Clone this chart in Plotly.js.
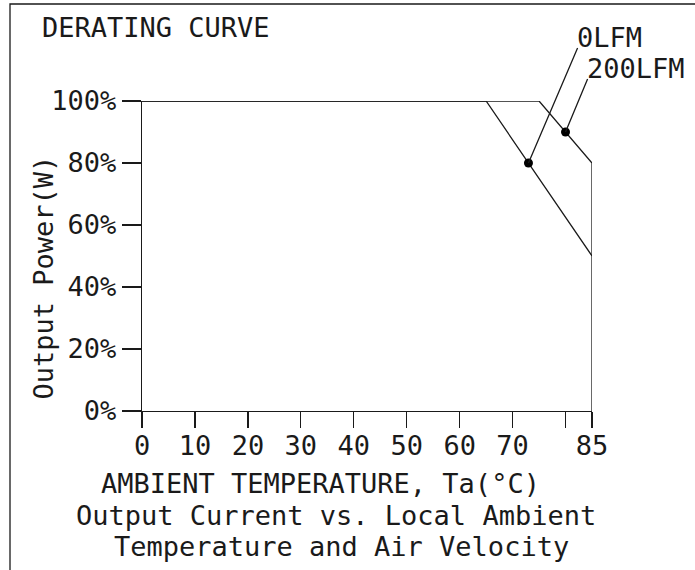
<!DOCTYPE html>
<html>
<head>
<meta charset="utf-8">
<script src="https://cdn.plot.ly/plotly-3.0.1.min.js"></script>
<style>
  html, body { margin: 0; padding: 0; background: #fff; }
  #chart { width: 695px; height: 570px; }
</style>
</head>
<body>
<div id="chart"></div>
<script>
// ---- data ----
const tempTicks = [0, 10, 20, 30, 40, 50, 60, 70, 80, 85];
const tempTickText = ['0', '10', '20', '30', '40', '50', '60', '70', '', '85'];
const powerTicks = [0, 20, 40, 60, 80, 100];
const powerTickText = ['0%', '20%', '40%', '60%', '80%', '100%'];

// 0 LFM curve (ambient temperature °C, output power %)
const temp0LFM = [0, 65, 85];
const power0LFM = [100, 100, 50];
// 200 LFM curve
const temp200LFM = [0, 75, 85, 85];
const power200LFM = [100, 100, 80, 0];

// labelled points on each curve
const markerNames = ['0LFM', '200LFM'];
const markerTemp = [73, 80];
const markerPower = [80, 90];

const FONT = 'DejaVu Sans Mono, monospace';
const INK = '#1a1a1a';
const LW = 1.3;

// pixel helpers for placing free text around the plot area
const L = 142, R = 103, T = 101, B = 159, W = 695, H = 570;
const pw = W - L - R, ph = H - T - B;
const px = p => (p - L) / pw;
const py = p => (H - B - p) / ph;
const dx = p => (p - L) / pw * 85;
const dy = p => (H - B - p) / ph * 100;

const traces = [
  { x: temp0LFM, y: power0LFM, mode: 'lines', name: '0LFM',
    line: { color: INK, width: LW }, cliponaxis: false, hoverinfo: 'x+y' },
  { x: temp200LFM, y: power200LFM, mode: 'lines', name: '200LFM',
    line: { color: INK, width: LW }, cliponaxis: false, hoverinfo: 'x+y' },
  { x: markerTemp, y: markerPower, mode: 'markers', name: 'points',
    marker: { color: '#000', size: 9 }, cliponaxis: false, hoverinfo: 'x+y' }
];

// leader ends and label placement (pixels)
const leaderEndPx = [[578, 47], [588, 78]];
const labelPosPx = [[575, 37.5], [585, 68.5]];

const annotations = [];
markerNames.forEach((n, i) => {
  // leader line
  annotations.push({
    text: ' ', x: markerTemp[i], y: markerPower[i], xref: 'x', yref: 'y',
    axref: 'x', ayref: 'y',
    ax: dx(leaderEndPx[i][0]), ay: dy(leaderEndPx[i][1]),
    showarrow: true, arrowhead: 0, arrowwidth: LW, arrowcolor: INK,
    standoff: 0, startstandoff: 0, borderpad: 0,
    font: { family: FONT, size: 1, color: INK }
  });
  // label text
  annotations.push({
    text: n, xref: 'paper', yref: 'paper',
    x: px(labelPosPx[i][0]), y: py(labelPosPx[i][1]),
    xanchor: 'left', yanchor: 'middle', showarrow: false,
    font: { family: FONT, size: 27, color: INK }
  });
});

const bottomLines = [
  ['AMBIENT TEMPERATURE, Ta(°C)', 320, 484],
  ['Output Current vs. Local Ambient', 336, 515],
  ['Temperature and Air Velocity', 341, 546]
];
bottomLines.forEach(b => {
  annotations.push({
    text: b[0], xref: 'paper', yref: 'paper', x: px(b[1]), y: py(b[2]),
    xanchor: 'center', yanchor: 'middle', showarrow: false,
    font: { family: FONT, size: 27, color: INK }
  });
});
annotations.push({
  text: 'Output Power(W)', xref: 'paper', yref: 'paper',
  x: px(43), y: py(277.5), textangle: -90,
  xanchor: 'center', yanchor: 'middle', showarrow: false,
  font: { family: FONT, size: 27, color: INK }
});
annotations.push({
  text: 'DERATING CURVE', xref: 'paper', yref: 'paper',
  x: px(40), y: py(28), xanchor: 'left', yanchor: 'middle', showarrow: false,
  font: { family: FONT, size: 27, color: INK }
});

const axisCommon = {
  showgrid: false, zeroline: false, showline: true,
  linecolor: INK, linewidth: LW, ticks: 'outside',
  tickcolor: INK, tickwidth: LW,
  tickfont: { family: FONT, size: 27, color: INK },
  fixedrange: true
};

const layout = {
  width: W, height: H,
  margin: { l: L, r: R, t: T, b: B, pad: 0 },
  paper_bgcolor: '#fff', plot_bgcolor: '#fff',
  showlegend: false,
  xaxis: Object.assign({}, axisCommon, {
    range: [0, 85], tickmode: 'array', tickvals: tempTicks, ticktext: tempTickText,
    ticklen: 16, ticklabelstandoff: -6
  }),
  yaxis: Object.assign({}, axisCommon, {
    range: [0, 100], tickmode: 'array', tickvals: powerTicks, ticktext: powerTickText,
    ticklen: 19
  }),
  annotations: annotations,
  shapes: [{
    type: 'rect', xref: 'paper', yref: 'paper',
    x0: px(10), x1: px(720), y0: py(600), y1: py(4),
    line: { color: INK, width: 1.3 }, fillcolor: 'rgba(0,0,0,0)', layer: 'below'
  }]
};

Plotly.newPlot('chart', traces, layout, { displayModeBar: false, staticPlot: true });
</script>
</body>
</html>
